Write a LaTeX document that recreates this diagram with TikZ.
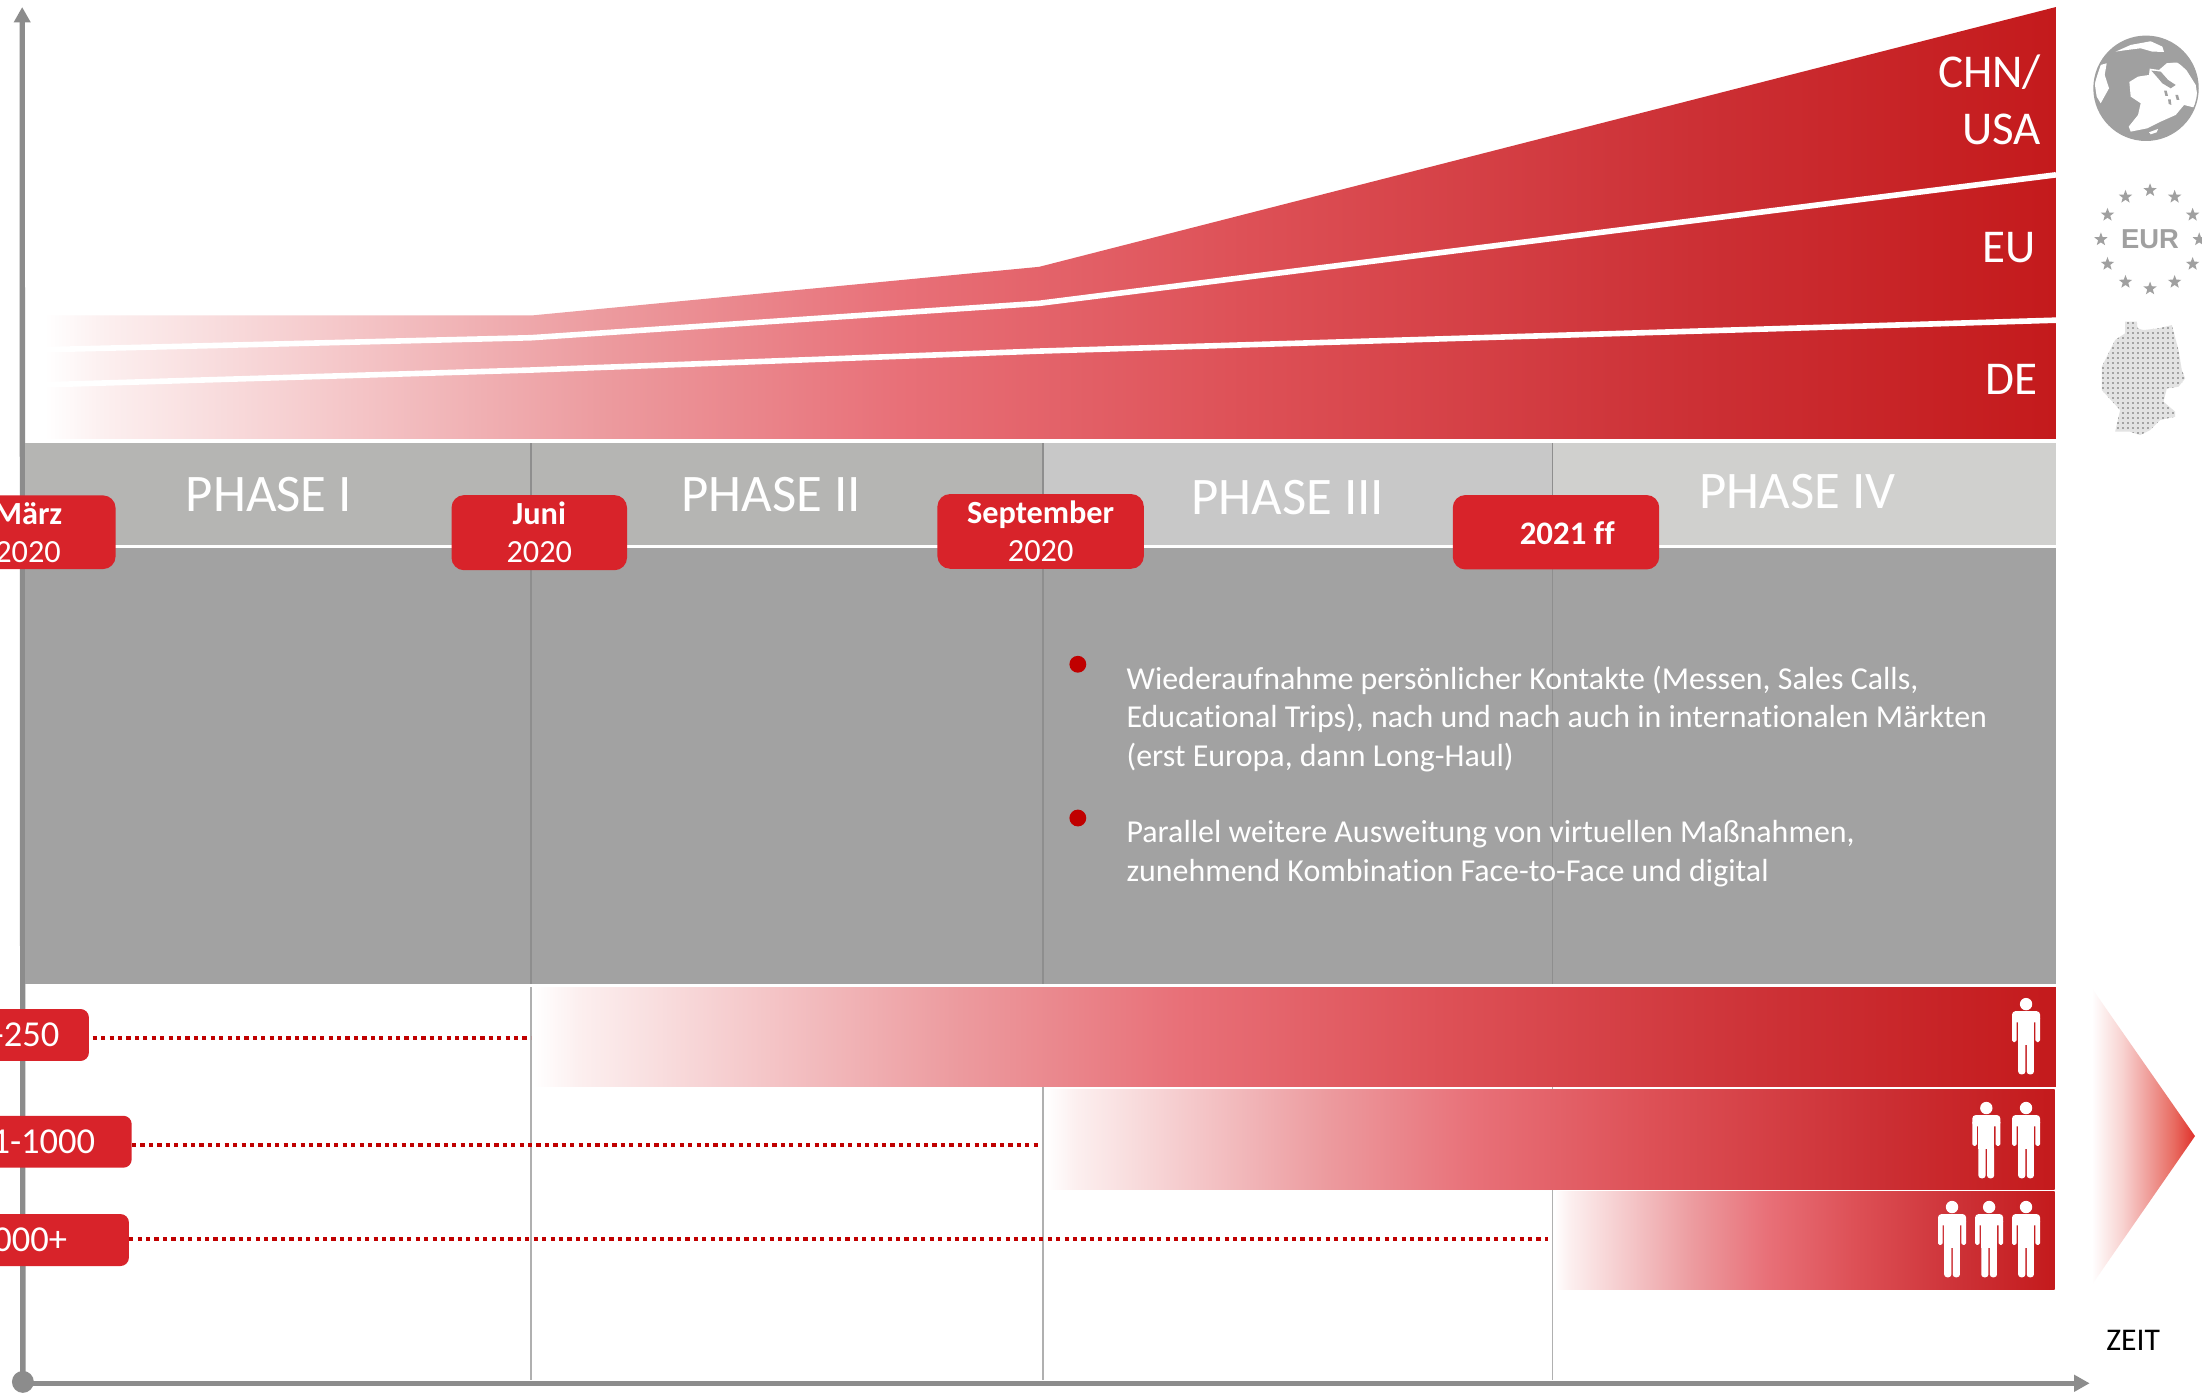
\documentclass[tikz,border=0pt]{standalone}
\usepackage{fontspec}
\setmainfont[RawFeature={-liga;-clig;-dlig}]{Carlito}
\newfontfamily\eurfont{Liberation Sans}
\usetikzlibrary{arrows.meta,shapes.geometric,calc}
\definecolor{f0}{HTML}{FCEFEF}
\definecolor{fa}{HTML}{EC9A9E}
\definecolor{fb}{HTML}{E87078}
\definecolor{fc}{HTML}{DD5056}
\definecolor{fd}{HTML}{CC3035}
\definecolor{fe}{HTML}{C41A1C}
\definecolor{ta}{HTML}{F8D2D0}
\definecolor{tb}{HTML}{F0A09C}
\definecolor{tc}{HTML}{E86A60}
\definecolor{td}{HTML}{E0302A}
\definecolor{bubblered}{HTML}{D8232A}
\definecolor{dotred}{HTML}{C00000}
\definecolor{axisgrey}{HTML}{8C8C8C}
\definecolor{icongrey}{HTML}{A0A0A0}
\definecolor{banda}{HTML}{B5B5B3}
\definecolor{bandb}{HTML}{C8C8C8}
\definecolor{bandc}{HTML}{D0D0CE}
\definecolor{banddark}{HTML}{A2A2A2}
\definecolor{linegreyd}{HTML}{8E8E8E}
\definecolor{linegreyl}{HTML}{B0B0B0}
\pgfdeclarehorizontalshading{redfade}{100bp}{color(0bp)=(white); color(25bp)=(white); color(26.5bp)=(f0); color(39bp)=(fa); color(46.25bp)=(fb); color(55bp)=(fc); color(66bp)=(fd); color(75bp)=(fe); color(100bp)=(fe)}
\pgfdeclarehorizontalshading{tipfade}{100bp}{color(0bp)=(white); color(25bp)=(white); color(40bp)=(ta); color(52bp)=(tb); color(65bp)=(tc); color(75bp)=(td); color(100bp)=(td)}
\tikzset{
  x=1pt,y=-1pt,
  fadeshape/.style={shade,shading=redfade,draw=none},
  whiteline/.style={draw=white,line width=4pt},
  phaselabel/.style={text=white,inner sep=0pt,font=\fontsize{37.6}{40}\selectfont},
  bubble/.style={fill=bubblered,text=white,rounded corners=9pt,inner sep=0pt,align=center,font=\fontsize{23}{27}\selectfont},
  rowbox/.style={fill=bubblered,text=white,rounded corners=6pt,inner ysep=0pt,align=right,minimum height=37pt,anchor=east,font=\fontsize{26}{28}\selectfont},
  dotline/.style={draw=dotred,line width=2.8pt,dash pattern=on 3pt off 3pt},
  axisline/.style={draw=axisgrey,line width=3.8pt,-{Triangle[length=11pt,width=11.4pt]}},
  region/.style={text=white,inner sep=0pt,align=right,anchor=east,font=\fontsize{33.5}{41}\selectfont},
  bodytext/.style={text=white,inner sep=0pt,anchor=north west,align=left,font=\fontsize{22.75}{27.4}\selectfont},
  gridline/.style={draw=#1,line width=1pt},
  bulletdot/.style={circle,fill=dotred,minimum size=12pt,inner sep=0pt},
  euicon/.style={star,star points=5,star point ratio=2.4,fill=icongrey,inner sep=0pt,minimum size=10pt},
  person/.pic={
    \fill[white] (0,0) circle (4.4);
    \fill[white,rounded corners=2.5pt] (-10,13)--(-10,5)--(10,5)--(10,13)--cycle;
    \fill[white,rounded corners=1.2pt] (-10,9)--(-10,27)--(-6.7,27)--(-6.7,9)--cycle;
    \fill[white,rounded corners=1.2pt] (10,9)--(10,27)--(6.7,27)--(6.7,9)--cycle;
    \fill[white] (-5.6,8) rectangle (5.6,29);
    \fill[white,rounded corners=2pt] (-5.6,27)--(-5.6,50)--(-0.5,50)--(-0.5,27)--cycle;
    \fill[white,rounded corners=2pt] (5.6,27)--(5.6,50)--(0.5,50)--(0.5,27)--cycle;
  }
}
\begin{document}
\begin{tikzpicture}
\useasboundingbox (0,0) rectangle (1568,995);
\clip (0,0) rectangle (1568,995);
\fill[white] (0,0) rectangle (1568,995);

% axes
\node[circle,fill=axisgrey,minimum size=15.6pt,inner sep=0pt] (origin) at (16.3,984) {};
\coordinate (ytop) at (15.8,5);
\coordinate (xend) at (1488,985);
\draw[axisline] (origin.center) -- (ytop);
\draw[axisline] (origin.center |- xend) -- (xend);

% top area
\path[fadeshape] (32,224.5)--(380,224.5)--(740,190)--(1464,5)--(1464,312.5)--(32,312.5)--cycle;
\draw[whiteline] (32,249)--(378,240.5)--(740,216)--(1464,124.5);
\draw[whiteline] (32,274)--(378,263.5)--(740,250)--(1464,228);

% bands
\fill[banda] (18,315.5) rectangle (742.7,388);
\fill[bandb] (742.7,315.5) rectangle (1105.6,388);
\fill[bandc] (1105.6,315.5) rectangle (1464,388);
\fill[white] (18,388) rectangle (1464,390);
\fill[banddark] (18,390) rectangle (1464,700.7);

% vertical lines
\foreach \xx in {378.2,742.7,1105.6}{
  \draw[gridline=linegreyd] (\xx,315.5) -- (\xx,700.7);
  \draw[gridline=linegreyl] (\xx,703) -- (\xx,983);
}

% rows
\path[fadeshape] (380,703) rectangle (1464,774);
\path[fadeshape] (745,776) rectangle (1463,847);
\path[fadeshape] (1107,848.5) rectangle (1463,918);

% arrow at right
\path[shade,shading=tipfade] (1489.5,703.6)--(1563,809)--(1489.5,915)--cycle;

% phase labels
\node[phaselabel] (ph1) at (191.5,352) {PHASE I};
\node[phaselabel] (ph2) at (549,352) {PHASE II};
\node[phaselabel] (ph3) at (917,354) {PHASE III};
\node[phaselabel] (ph4) at (1280,350) {PHASE IV};

% date bubbles
\node[bubble,minimum width=124.6pt,minimum height=52.5pt] (maerz) at (20,379) {\textbf{März}\\2020};
\node[bubble,minimum width=125pt,minimum height=53.5pt] (juni) at (384,379.3) {\textbf{Juni}\\2020};
\node[bubble,minimum width=147pt,minimum height=53.2pt] (sept) at (741,378.4) {\textbf{September}\\2020};
\node[bubble,minimum width=147pt,minimum height=53pt] (ff) at (1108,379) {};
\node[text=white,inner sep=0pt,font=\fontsize{23.4}{26}\selectfont\bfseries] (fftext) at (1116,380) {2021 ff};

% region labels
\node[region] (chn) at (1453.5,71) {CHN/\\USA};
\node[region] (eu) at (1449.5,176) {EU};
\node[region] (de) at (1451,270.5) {DE};

% bullets
\node[bulletdot] (b1) at (767.5,473) {};
\node[bulletdot] (b2) at (767.5,582.5) {};
\node[bodytext] (t1) at (802,474) {Wiederaufnahme persönlicher Kontakte (Messen, Sales Calls,\\Educational Trips), nach und nach auch in internationalen Märkten\\(erst Europa, dann Long-Haul)};
\node[bodytext] (t2) at (802,584) {Parallel weitere Ausweitung von virtuellen Maßnahmen,\\zunehmend Kombination Face-to-Face und digital};

% row labels and dotted connectors
\node[rowbox,text width=100pt,inner xsep=21pt] (r1) at (63.5,737) {1-250};
\node[rowbox,text width=130pt,inner xsep=26pt] (r2) at (94,813) {251-1000};
\node[rowbox,text width=100pt,inner xsep=44pt] (r3) at (92,883) {1000+};
\coordinate (d1) at (378,739);
\coordinate (d2) at (741,815);
\coordinate (d3) at (1102,882.5);
\draw[dotline] (r1.east |- d1) ++(2.5,0) -- (d1);
\draw[dotline] (r2.east |- d2) -- (d2);
\draw[dotline] (r3.east |- d3) -- (d3);

% persons
\pic at (1442.7,715) {person};
\pic at (1414.4,789) {person};
\pic at (1442.7,789) {person};
\pic at (1390,859.5) {person};
\pic at (1416.4,859.5) {person};
\pic at (1442.7,859.5) {person};

% ZEIT
\node[inner sep=0pt,font=\fontsize{22.5}{24}\selectfont] (zeit) at (1519,954.5) {ZEIT};

% globe
\begin{scope}[shift={(1481.6,14.2)},x=0.2374pt,y=-0.2374pt]
  \fill[icongrey] (196,205) circle (156);
  \fill[white] (146,186) -- (172,170) -- (205,165) -- (207,146) -- (235,150) -- (258,130) -- (290,125) -- (318,152) -- (345,195) -- (352,240) -- (338,262) -- (310,255) -- (285,285) -- (240,305) -- (200,325) -- (150,335) -- (144,320) -- (172,285) -- (180,250) -- (150,230) -- cycle;
  \fill[icongrey] (212,152) -- (240,155) -- (262,180) -- (285,195) -- (270,205) -- (245,190) -- (228,170) -- cycle;
  \fill[icongrey] (250,212) -- (258,212) -- (262,228) -- (254,228) -- cycle;
  \fill[icongrey] (262,238) -- (270,238) -- (272,255) -- (264,252) -- cycle;
  \fill[icongrey] (284,225) -- (292,225) -- (296,240) -- (288,240) -- cycle;
  \fill[icongrey] (215,125) -- (250,112) -- (290,110) -- (325,150) -- (290,128) -- (255,128) -- (225,130) -- cycle;
  \fill[white] (105,95) -- (150,75) -- (210,64) -- (245,80) -- (250,96) -- (215,95) -- (180,85) -- (140,90) -- cycle;
  \fill[white] (60,135) -- (78,130) -- (72,165) -- (85,205) -- (60,250) -- (48,230) -- (42,190) -- cycle;
  \fill[white] (205,337) -- (232,327) -- (228,337) -- (210,343) -- cycle;
  \draw[icongrey,line width=1pt] (196,205) circle (156);
\end{scope}

% EUR icon
\foreach \i in {0,30,...,330}{
  \node[euicon] (star\i) at ($(1531,170.5)+(\i:35)$) {};
}
\node[text=icongrey,inner sep=0pt,font=\eurfont\bfseries\fontsize{19.5}{22}\selectfont] (eur) at (1531,170.5) {EUR};

% Germany icon
\begin{scope}[shift={(1317.4,0)},x=0.2374pt,y=-0.2374pt]
  \clip (825,965)--(860,965)--(862,985)--(880,990)--(925,985)--(965,975)--(985,1050)--(995,1110)--(1005,1135)--(985,1160)--(950,1165)--(940,1205)--(975,1235)--(975,1250)--(930,1260)--(900,1290)--(870,1305)--(840,1295)--(795,1295)--(810,1230)--(755,1170)--(755,1100)--(785,1040)--(795,1020)--(825,1000)--cycle;
  \fill[black!11] (750,960) rectangle (1010,1310);
  \foreach \gx in {755,770,...,1005}{
    \foreach \gy in {965,980,...,1305}{
      \fill[black!36] (\gx,\gy) rectangle ++(7,7);
    }
  }
\end{scope}
\end{tikzpicture}
\end{document}
